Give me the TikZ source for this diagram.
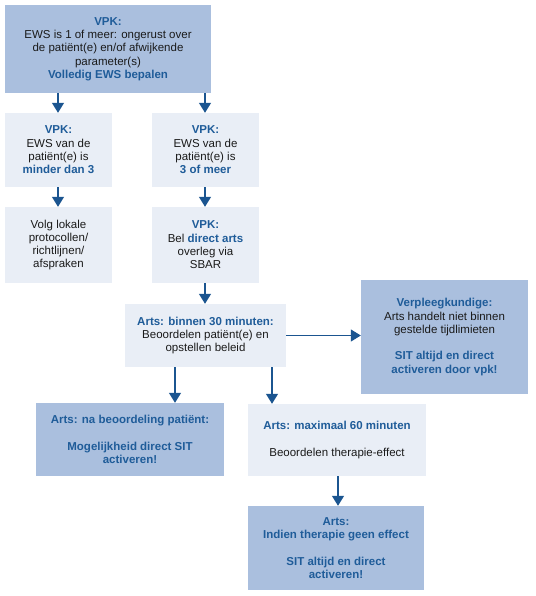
\documentclass[tikz,border=0pt]{standalone}
\usepackage{fontspec}
\setmainfont{Liberation Sans}
\usetikzlibrary{arrows.meta}
\definecolor{darkfill}{HTML}{AABFDE}
\definecolor{lightfill}{HTML}{E9EEF6}
\definecolor{hblue}{HTML}{1F5C99}
\definecolor{arrblue}{HTML}{1B5590}
\definecolor{txt}{HTML}{1A1A1A}
\newcommand{\hb}[1]{\textbf{\color{hblue}#1}}
\tikzset{
  box/.style={rectangle, inner sep=2pt, align=center, text=txt,
    font=\fontsize{11.5}{13.3}\selectfont},
  darkbox/.style={box, fill=darkfill},
  lightbox/.style={box, fill=lightfill},
  arr/.style={draw=arrblue, line width=1.3pt, -{Triangle[width=12pt,length=10pt]}}
}
\begin{document}
\begin{tikzpicture}[x=1pt,y=-1pt]
\useasboundingbox (0,0) rectangle (535,596);
\node[darkbox, minimum width=206pt, minimum height=88pt] (b1) at (108,49)
  {\hb{VPK:}\\EWS is 1 of meer: ongerust over\\de patiënt(e) en/of afwijkende\\parameter(s)\\\hb{Volledig EWS bepalen}};
\node[lightbox, minimum width=107pt, minimum height=74pt] (b2) at (58.5,150)
  {\hb{VPK:}\\EWS van de\\patiënt(e) is\\\hb{minder dan 3}};
\node[lightbox, minimum width=107pt, minimum height=74pt] (b3) at (205.5,150)
  {\hb{VPK:}\\EWS van de\\patiënt(e) is\\\hb{3 of meer}};
\node[lightbox, minimum width=107pt, minimum height=76pt] (b4) at (58.5,245)
  {Volg lokale\\protocollen/\\richtlijnen/\\afspraken};
\node[lightbox, minimum width=107pt, minimum height=76pt] (b5) at (205.5,245)
  {\hb{VPK:}\\Bel \hb{direct arts}\\overleg via\\SBAR};
\node[lightbox, minimum width=161pt, minimum height=63pt] (b6) at (205.5,335.5)
  {\hb{Arts: binnen 30 minuten:}\\Beoordelen patiënt(e) en\\opstellen beleid};
\node[darkbox, minimum width=167pt, minimum height=114pt] (b7) at (444.5,337)
  {\hb{Verpleegkundige:}\\Arts handelt niet binnen\\gestelde tijdlimieten\\[13.3pt]\hb{SIT altijd en direct}\\\hb{activeren door vpk!}};
\node[darkbox, minimum width=188pt, minimum height=73pt] (b8) at (130,439.5)
  {\hb{Arts: na beoordeling patiënt:}\\[13.3pt]\hb{Mogelijkheid direct SIT}\\\hb{activeren!}};
\node[lightbox, minimum width=178pt, minimum height=72pt] (b9) at (337,440)
  {\hb{Arts: maximaal 60 minuten}\\[13.3pt]Beoordelen therapie-effect};
\node[darkbox, minimum width=176pt, minimum height=84pt] (b10) at (336,548)
  {\hb{Arts:}\\\hb{Indien therapie geen effect}\\[13.3pt]\hb{SIT altijd en direct}\\\hb{activeren!}};
\coordinate (xl) at (58,0);
\coordinate (xr) at (205,0);
\coordinate (xa) at (175,0);
\coordinate (xb) at (272,0);
\coordinate (xc) at (338,0);
\draw[arr] (b1.south -| xl) -- (b2.north -| xl);
\draw[arr] (b1.south -| xr) -- (b3.north -| xr);
\draw[arr] (b2.south -| xl) -- (b4.north -| xl);
\draw[arr] (b3.south -| xr) -- (b5.north -| xr);
\draw[arr] (b5.south -| xr) -- (b6.north -| xr);
\draw[arr] (b6.east) -- (b6.east -| b7.west);
\draw[arr] (b6.south -| xa) -- (b8.north -| xa);
\draw[arr] (b6.south -| xb) -- (b9.north -| xb);
\draw[arr] (b9.south -| xc) -- (b10.north -| xc);
\end{tikzpicture}
\end{document}
